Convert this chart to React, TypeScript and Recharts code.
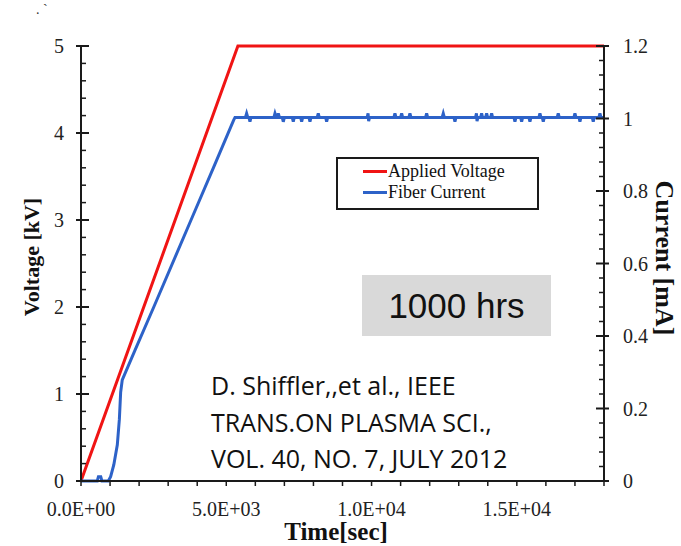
import React from "react";
import { ComposedChart, Line, XAxis, YAxis } from "recharts";

// applied voltage ramp [time s, kV]
const voltageTime = [0, 5400, 18000];
const voltageKV = [0, 5, 5];

const fiberCurrent: [number, number][] = [
  [0, 0], [560, 0], [600, 0.012], [680, 0.012], [720, 0], [940, 0],
  [1020, 0.012], [1130, 0.045], [1250, 0.1], [1320, 0.17], [1365, 0.245],
  [1420, 0.279], [1860, 0.361], [2505, 0.48], [3787, 0.72], [4600, 0.872],
  [5250, 0.995], [5300, 1.003],
  [5660, 1.003], [5700, 1.014], [5740, 1.003], [5780, 1.003], [5815, 0.991], [5850, 1.003],
  [6640, 1.003], [6676, 1.014], [6720, 1.003], [6760, 1.003], [6790, 1.014], [6830, 1.003],
  [6925, 1.003], [6962, 0.991], [7000, 1.003],
  [7270, 1.003], [7306, 0.991], [7340, 1.003],
  [7560, 1.003], [7594, 0.991], [7630, 1.003],
  [7845, 1.003], [7880, 0.991], [7915, 1.003],
  [8130, 1.003], [8166, 1.014], [8200, 1.003],
  [8420, 1.003], [8454, 0.991], [8490, 1.003],
  [9850, 1.003], [9880, 1.014], [9900, 0.993], [9930, 1.003],
  [10770, 1.003], [10805, 1.014], [10840, 1.003],
  [11000, 1.003], [11036, 1.014], [11070, 1.003],
  [11285, 1.003], [11321, 1.014], [11355, 1.003],
  [11860, 1.003], [11896, 1.014], [11930, 1.003],
  [12430, 1.003], [12468, 1.014], [12505, 1.003],
  [12835, 1.003], [12870, 0.991], [12905, 1.003],
  [13580, 1.003], [13610, 1.014], [13630, 0.993], [13660, 1.003],
  [13755, 1.003], [13788, 1.014], [13820, 1.003],
  [13925, 1.003], [13960, 1.014], [13995, 1.003],
  [14100, 1.003], [14133, 1.014], [14165, 1.003],
  [14900, 1.003], [14935, 0.991], [14970, 1.003],
  [15130, 1.003], [15165, 0.991], [15200, 1.003],
  [15415, 1.003], [15451, 0.991], [15485, 1.003],
  [15760, 1.003], [15795, 1.014], [15830, 1.003], [15875, 1.003], [15910, 0.991], [15945, 1.003],
  [16390, 1.003], [16425, 1.014], [16460, 1.003],
  [16965, 1.003], [17000, 1.014], [17035, 1.003],
  [17140, 1.003], [17172, 0.991], [17205, 1.003],
  [17595, 1.003], [17630, 0.991], [17665, 1.003],
  [17825, 1.003], [17860, 1.014], [17895, 1.003], [18000, 1.003],
];

const timeLabels = [0, 5000, 10000, 15000];
const voltageLabels = [0, 1, 2, 3, 4, 5];
const currentLabels = [0, 0.2, 0.4, 0.6, 0.8, 1, 1.2];

const seriesNames = ["Applied Voltage", "Fiber Current"];

const RED = "#f01414";
const BLUE = "#2d62c8";
const AXIS = "#1a1a1a";
const SERIF = "'Liberation Serif', 'Times New Roman', serif";

const voltageData = voltageTime.map((t, i) => ({ t, v: voltageKV[i] }));
const currentData = fiberCurrent.map(([t, i]) => ({ t, i }));

// minor ticks
const timeTicks = Array.from({ length: 19 }, (_, k) => k * 1000);
const voltageTicks = Array.from({ length: 26 }, (_, k) => +(k * 0.2).toFixed(1));
const currentTicks = Array.from({ length: 31 }, (_, k) => +(k * 0.04).toFixed(2));

const isLabel = (list: number[], v: number) => list.some((l) => Math.abs(l - v) < 1e-6);

function sci(v: number) {
  if (v === 0) return "0.0E+00";
  const e = Math.floor(Math.log10(v));
  const m = (v / Math.pow(10, e)).toFixed(1);
  return `${m}E+${String(e).padStart(2, "0")}`;
}

const LeftTick = (props: any) => {
  const { x, y, payload } = props;
  const major = isLabel(voltageLabels, payload.value);
  return (
    <g>
      {major ? (
        <>
          <line x1={x - 5} x2={x + 8} y1={y} y2={y} stroke={AXIS} strokeWidth={2} />
          <text x={x - 17} y={y} dy="0.35em" textAnchor="end" fontFamily={SERIF} fontSize={20} fill="#222">
            {payload.value}
          </text>
        </>
      ) : (
        <line x1={x} x2={x + 5} y1={y} y2={y} stroke={AXIS} strokeWidth={1.5} />
      )}
    </g>
  );
};

const RightTick = (props: any) => {
  const { x, y, payload } = props;
  const major = isLabel(currentLabels, payload.value);
  return (
    <g>
      {major ? (
        <>
          <line x1={x - 8} x2={x + 5} y1={y} y2={y} stroke={AXIS} strokeWidth={2} />
          <text x={x + 19} y={y} dy="0.35em" textAnchor="start" fontFamily={SERIF} fontSize={20} fill="#222">
            {String(payload.value)}
          </text>
        </>
      ) : (
        <line x1={x - 5} x2={x} y1={y} y2={y} stroke={AXIS} strokeWidth={1.5} />
      )}
    </g>
  );
};

const BottomTick = (props: any) => {
  const { x, y, payload } = props;
  const major = isLabel(timeLabels, payload.value);
  return (
    <g>
      <line x1={x} x2={x} y1={y} y2={y + 5} stroke={AXIS} strokeWidth={1.5} />
      {major && (
        <text x={x} y={y + 35} textAnchor="middle" fontFamily={SERIF} fontSize={20} fill="#222">
          {sci(payload.value)}
        </text>
      )}
    </g>
  );
};

const LegendBox = () => (
  <div
    style={{
      position: "absolute",
      left: 336,
      top: 157,
      width: 203,
      height: 53,
      boxSizing: "border-box",
      border: `2px solid ${AXIS}`,
      background: "#fff",
      fontFamily: SERIF,
      fontSize: 18,
      color: "#111",
    }}
  >
    {seriesNames.map((name, k) => (
      <div
        key={name}
        style={{ position: "absolute", left: 25, top: (k === 0 ? 14 : 35) - 13, height: 22, display: "flex", alignItems: "center" }}
      >
        <span style={{ display: "inline-block", width: 24, height: 3, background: k === 0 ? RED : BLUE }} />
        <span style={{ marginLeft: 1, lineHeight: "22px" }}>{name}</span>
      </div>
    ))}
  </div>
);

export default function App() {
  return (
    <div style={{ position: "absolute", left: 0, top: 0, width: 681, height: 546, background: "#fff" }}>
      <ComposedChart width={681} height={546} margin={{ top: 46, right: 17, bottom: 20, left: 21 }}>
        <XAxis
          dataKey="t"
          type="number"
          domain={[0, 18000]}
          ticks={timeTicks}
          interval={0}
          allowDataOverflow
          tickSize={0}
          tickMargin={0}
          tickLine={false}
          axisLine={{ stroke: AXIS, strokeWidth: 2 }}
          tick={<BottomTick />}
          height={45}
          label={{
            content: () => (
              <text x={336} y={540} textAnchor="middle" fontFamily={SERIF} fontWeight="bold" fontSize={25} fill="#111">
                Time[sec]
              </text>
            ),
          }}
        />
        <YAxis
          yAxisId="v"
          orientation="left"
          type="number"
          domain={[0, 5]}
          ticks={voltageTicks}
          interval={0}
          width={60}
          tickSize={0}
          tickMargin={0}
          tickLine={false}
          axisLine={{ stroke: AXIS, strokeWidth: 2 }}
          tick={<LeftTick />}
          label={{
            content: () => (
              <text x={31} y={257} transform="rotate(-90 31 257)" dy="0.35em" textAnchor="middle" fontFamily={SERIF} fontWeight="bold" fontSize={22} fill="#111">
                Voltage [kV]
              </text>
            ),
          }}
        />
        <YAxis
          yAxisId="i"
          orientation="right"
          type="number"
          domain={[0, 1.2]}
          ticks={currentTicks}
          interval={0}
          width={60}
          tickSize={0}
          tickMargin={0}
          tickLine={false}
          axisLine={{ stroke: AXIS, strokeWidth: 2 }}
          tick={<RightTick />}
          label={{
            content: () => (
              <text x={665} y={258} transform="rotate(90 665 258)" dy="0.35em" textAnchor="middle" fontFamily={SERIF} fontWeight="bold" fontSize={26} fill="#111">
                Current [mA]
              </text>
            ),
          }}
        />
        <Line
          yAxisId="v"
          data={voltageData}
          dataKey="v"
          name={seriesNames[0]}
          type="linear"
          stroke={RED}
          strokeWidth={3}
          dot={false}
          isAnimationActive={false}
        />
        <Line
          yAxisId="i"
          data={currentData}
          dataKey="i"
          name={seriesNames[1]}
          type="linear"
          stroke={BLUE}
          strokeWidth={3}
          dot={false}
          isAnimationActive={false}
        />
      </ComposedChart>
      <LegendBox />
      <div style={{ position: "absolute", left: 36, top: 2, fontFamily: SERIF, fontSize: 14, color: "#333" }}>. `</div>
      <div
        style={{
          position: "absolute",
          left: 362,
          top: 275,
          width: 189,
          height: 61,
          background: "#d9d9d9",
          display: "flex",
          alignItems: "center",
          justifyContent: "center",
          fontFamily: "'Liberation Sans', Arial, sans-serif",
          fontSize: 35,
          color: "#111",
        }}
      >
        1000 hrs
      </div>
      <div
        style={{
          position: "absolute",
          left: 211,
          top: 367,
          fontFamily: "'Open Sans', sans-serif",
          fontSize: 25,
          lineHeight: "36.7px",
          color: "#111",
          whiteSpace: "nowrap",
        }}
      >
        <div>D. Shiffler,,et al., IEEE</div>
        <div>TRANS.ON PLASMA SCI.,</div>
        <div>VOL. 40, NO. 7, JULY 2012</div>
      </div>
    </div>
  );
}
